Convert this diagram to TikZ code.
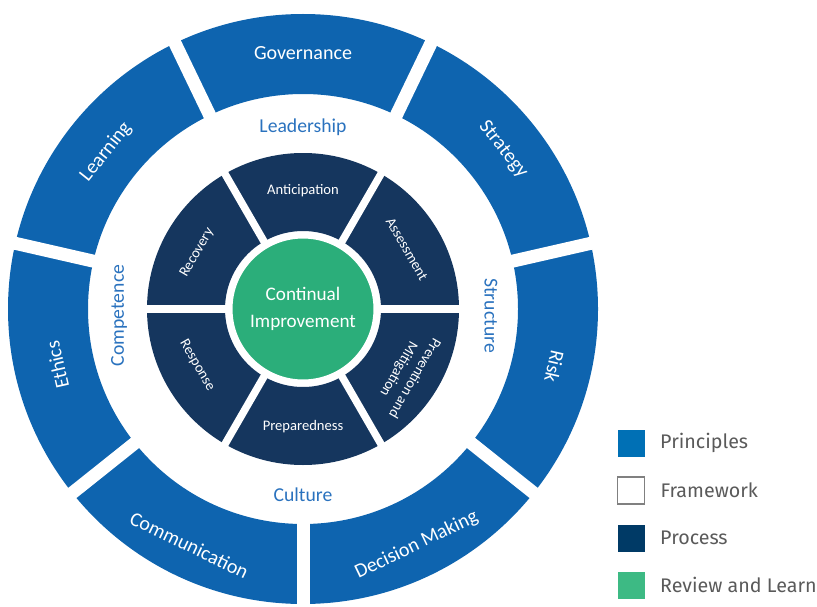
\documentclass[tikz,border=0pt]{standalone}
\usepackage{fontspec}
\setmainfont{Carlito}
\newfontfamily\keyfont{Fira Sans}
\usetikzlibrary{positioning}
\definecolor{prinblue}{HTML}{0E64AF}
\definecolor{procnavy}{HTML}{15365E}
\definecolor{revgreen}{HTML}{2BAE7A}
\definecolor{frameblue}{HTML}{2A72BE}
\definecolor{keyblue}{HTML}{0070B5}
\definecolor{keynavy}{HTML}{003A66}
\definecolor{keygreen}{HTML}{3DBA84}
\definecolor{keygray}{HTML}{5A5A5A}
\tikzset{
    cut/.style = {draw=white, line width=0.26cm},
    pcut/.style = {draw=white, line width=0.15cm},
    princ/.style = {text=white, inner sep=0,
        font=\fontsize{11.4}{13}\selectfont},
    frametext/.style = {text=frameblue, inner sep=0,
        font=\fontsize{11.2}{13}\selectfont},
    proctext/.style = {text=white, inner sep=0, align=center,
        font=\fontsize{8.3}{10.4}\selectfont},
    review/.style = {circle, fill=revgreen, draw=white, line width=0.1cm,
        minimum size=2.92cm, text=white, align=center,
        font=\fontsize{10.9}{15.4}\selectfont},
    keybox/.style = {minimum size=0.54cm, inner sep=0},
    keytext/.style = {text=keygray, inner sep=0, anchor=west,
        font=\keyfont\fontsize{11.2}{13}\selectfont}
}

\begin{document}
\begin{tikzpicture}[x=0.02cm, y=0.02cm]
    \useasboundingbox (0,0) rectangle (817,606);
    \begin{scope}[shift={(303,297)}]
    % principles ring
    \fill[prinblue, even odd rule] (0,0) circle[radius=295] circle[radius=215];
    \draw[cut] (0,0) -- (115.71:310);
    \draw[cut] (0,0) -- (64.29:310);
    \draw[cut] (0,0) -- (12.86:310);
    \draw[cut] (0,0) -- (-38.57:310);
    \draw[cut] (0,0) -- (-90:310);
    \draw[cut] (0,0) -- (-141.43:310);
    \draw[cut] (0,0) -- (167.14:310);
    \node[princ] (gov) at (90:256) {Governance};
    \node[princ, rotate=-51.43] (strat) at (38.57:256) {Strategy};
    \node[princ, rotate=-102.86] (risk) at (-12.86:258) {Risk};
    \node[princ, rotate=25.71] (dec) at (-64.29:262) {Decision Making};
    \node[princ, rotate=-25.71] (comm) at (-115.71:262) {Communication};
    \node[princ, rotate=102.86] (eth) at (192.86:252) {Ethics};
    \node[princ, rotate=51.43] (learn) at (141.43:252) {Learning};
    % framework ring
    \node[frametext] (lead) at (90:182) {Leadership};
    \node[frametext, rotate=-90] (struct) at (-2:188) {Structure};
    \node[frametext] (cult) at (-90:186) {Culture};
    \node[frametext, rotate=90] (comp) at (182:184) {Competence};
    % process ring
    \fill[procnavy, even odd rule] (0,0) circle[radius=156] circle[radius=78];
    \draw[pcut] (0,0) -- (0:165);
    \draw[pcut] (0,0) -- (60:165);
    \draw[pcut] (0,0) -- (120:165);
    \draw[pcut] (0,0) -- (180:165);
    \draw[pcut] (0,0) -- (240:165);
    \draw[pcut] (0,0) -- (300:165);
    \node[proctext] (antic) at (90:118) {Anticipation};
    \node[proctext, rotate=-60] (assess) at (30:120) {Assessment};
    \node[proctext, rotate=-120] (prev) at (-32:122) {Prevention and\\Mitigation};
    \node[proctext] (prep) at (-90:118) {Preparedness};
    \node[proctext, rotate=-60] (resp) at (208:120) {Response};
    \node[proctext, rotate=60] (recov) at (152:120) {Recovery};
    % review and learn
    \node[review] (ci) at (0,0) {Continual\\Improvement};
    \end{scope}
    % key
    \node[keybox, fill=keyblue] (kprin) at (631,163) {};
    \node[keytext, right=0.3cm of kprin] (tprin) {Principles};
    \node[keybox, draw=gray, line width=0.8pt, below=0.39cm of kprin] (kframe) {};
    \node[keytext, right=0.3cm of kframe] (tframe) {Framework};
    \node[keybox, fill=keynavy, below=0.39cm of kframe] (kproc) {};
    \node[keytext, right=0.3cm of kproc] (tproc) {Process};
    \node[keybox, fill=keygreen, below=0.39cm of kproc] (krev) {};
    \node[keytext, right=0.3cm of krev] (trev) {Review and Learn};
\end{tikzpicture}
\end{document}
